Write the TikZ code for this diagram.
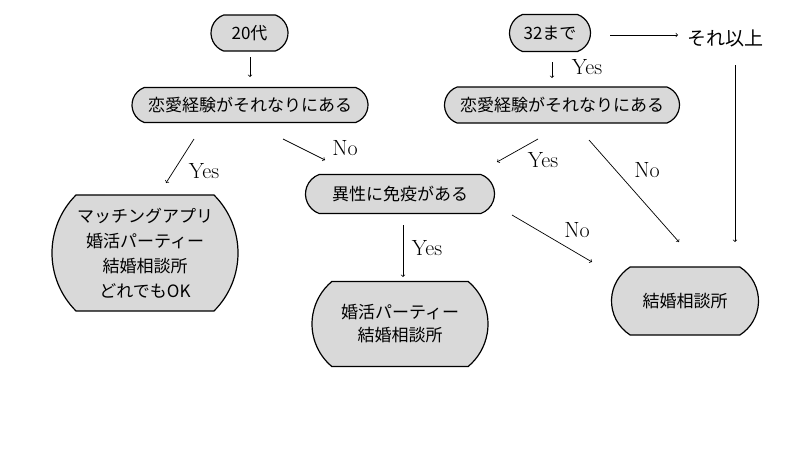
\documentclass[tikz,border=0pt]{standalone}
\usepackage{fontspec}
\usepackage{tikz}
\usetikzlibrary{calc,positioning,arrows,shapes}
\newfontfamily\jp{Noto Sans CJK JP}

\begin{document}
\begin{tikzpicture}[x=1pt,y=-1pt,
  box/.style={rounded rectangle,draw,fill=gray!30,line width=1.2pt,inner sep=0pt,align=center,font=\jp\fontsize{17}{25}\selectfont},
  lbl/.style={inner sep=0pt,font=\fontsize{22}{26}\selectfont},
  arr/.style={->,line width=0.7pt}]
  \useasboundingbox (0,0) rectangle (800,450);

  \node[box,minimum width=77,minimum height=36,rounded rectangle arc length=140] (age20) at (249.5,33) {20代};
  \node[box,minimum width=81,minimum height=37,rounded rectangle arc length=140] (upto32) at (550,33) {32まで};
  \node[inner sep=0pt,font=\jp\fontsize{19}{23}\selectfont] (over) at (725,38) {それ以上};

  \node[box,minimum width=236,minimum height=35,rounded rectangle arc length=140] (expL) at (250,105) {恋愛経験がそれなりにある};
  \node[box,minimum width=235,minimum height=36,rounded rectangle arc length=140] (expR) at (562,105) {恋愛経験がそれなりにある};
  \node[box,minimum width=189,minimum height=39,rounded rectangle arc length=140] (immune) at (400,194) {異性に免疫がある};

  \node[box,minimum width=186,minimum height=116,rounded rectangle arc length=90] (all) at (145,253) {マッチングアプリ\\婚活パーティー\\結婚相談所\\どれでもOK};
  \node[box,minimum width=176,minimum height=85,rounded rectangle arc length=100,font=\jp\fontsize{17}{23}\selectfont] (party) at (400,324) {婚活パーティー\\結婚相談所};
  \node[box,minimum width=147,minimum height=68,rounded rectangle arc length=115] (agency) at (685,301) {結婚相談所};

  % free arrow ends
  \coordinate (a1) at (250,57);  \coordinate (a2) at (250,77);
  \coordinate (b1) at (552,62);  \coordinate (b2) at (552,78);
  \coordinate (c1) at (610,35);  \coordinate (c2) at (678,35);
  \coordinate (c3) at (735,65);  \coordinate (c4) at (735,242);
  \coordinate (d1) at (194,139); \coordinate (d2) at (166,183);
  \coordinate (d3) at (283,139); \coordinate (d4) at (325,160);
  \coordinate (e1) at (538,139); \coordinate (e2) at (497,162);
  \coordinate (e3) at (589,140); \coordinate (e4) at (679,242);
  \coordinate (f1) at (403,225); \coordinate (f2) at (403,277);
  \coordinate (f3) at (512,215); \coordinate (f4) at (592,262);

  \draw[arr] (a1) -- (a2);
  \draw[arr] (b1) -- (b2);
  \draw[arr] (c1) -- (c2);
  \draw[arr] (c3) -- (c4);
  \draw[arr] (d1) -- (d2);
  \draw[arr] (d3) -- (d4);
  \draw[arr] (e1) -- (e2);
  \draw[arr] (e3) -- (e4);
  \draw[arr] (f1) -- (f2);
  \draw[arr] (f3) -- (f4);

  \node[lbl] (yes32) at (587,67) {Yes};
  \node[lbl] (yesL) at (204,171) {Yes};
  \node[lbl] (noL) at (345,148) {No};
  \node[lbl] (yesR) at (543,160) {Yes};
  \node[lbl] (noR) at (647,170) {No};
  \node[lbl] (yesI) at (427,248) {Yes};
  \node[lbl] (noI) at (577,230) {No};
\end{tikzpicture}
\end{document}
